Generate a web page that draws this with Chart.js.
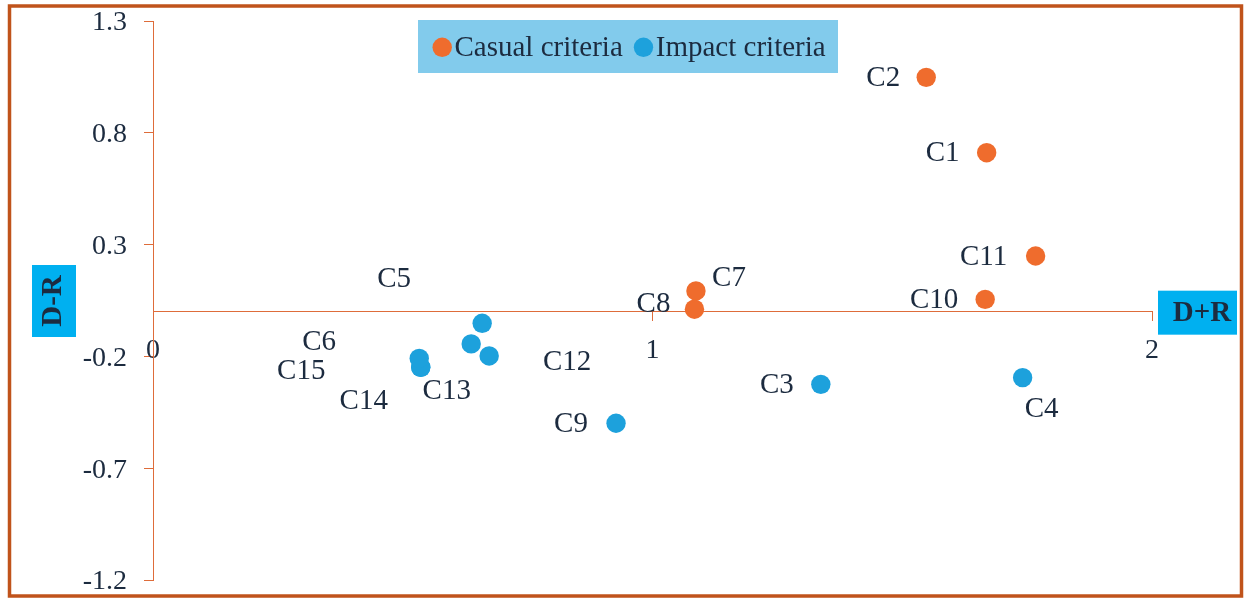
<!DOCTYPE html>
<html>
<head>
<meta charset="utf-8">
<script src="https://cdn.jsdelivr.net/npm/chart.js@4.4.1/dist/chart.umd.min.js"></script>
<style>
  html, body { margin: 0; padding: 0; background: #ffffff; }
  #wrap { width: 1244px; height: 599px; position: relative; }
</style>
</head>
<body>
<div id="wrap"><canvas id="c" width="1244" height="599"></canvas></div>
<script>
// ---- data ----
const casualLabels = ['C1', 'C2', 'C7', 'C8', 'C10', 'C11'];
const casualX = [1.669, 1.548, 1.087, 1.084, 1.666, 1.767];
const casualY = [0.711, 1.048, 0.093, 0.011, 0.055, 0.249];

const impactLabels = ['C3', 'C4', 'C5', 'C6', 'C9', 'C12', 'C13', 'C14', 'C15'];
const impactX = [1.337, 1.741, 0.659, 0.637, 0.927, 0.673, 0.536, 0.536, 0.533];
const impactY = [-0.325, -0.295, -0.052, -0.144, -0.499, -0.198, -0.249, -0.249, -0.209];

const xTicks = [0, 1, 2];
const yTicks = [-1.2, -0.7, -0.2, 0.3, 0.8, 1.3];
const seriesNames = ['Casual criteria', 'Impact criteria'];
const xTitle = 'D+R';
const yTitle = 'D-R';

// ---- styles ----
const ORANGE = '#EF6C2D';
const BLUE = '#1DA1DC';
const AXIS = '#DE6C3A';
const TXT = '#1C2B3F';
const FRAME = '#C0531B';
const SERIF = '"Liberation Serif", "Times New Roman", serif';

// label offsets (pixels, relative to the point centre)
const labelOffsets = {
  C1: [-44, 1], C2: [-43, 1], C7: [33, -12], C8: [-41, -5], C10: [-51, 1], C11: [-52, 1],
  C3: [-44, 1], C4: [19, 32], C5: [-88, -44], C6: [-152, -1], C9: [-45, 1],
  C12: [78, 6], C13: [26, 24], C14: [-57, 34], C15: [-118, 13]
};

const decor = {
  id: 'decor',
  beforeDraw(chart) {
    const ctx = chart.ctx;
    ctx.save();
    ctx.fillStyle = '#ffffff';
    ctx.fillRect(0, 0, chart.width, chart.height);

    // outer frame
    ctx.strokeStyle = FRAME;
    ctx.lineWidth = 3.5;
    ctx.strokeRect(9.5, 6, 1232, 590);

    const xs = chart.scales.x, ys = chart.scales.y;
    const y0 = ys.getPixelForValue(0);

    // y title box
    ctx.fillStyle = '#00B0F0';
    ctx.fillRect(32, 265, 44, 72);
    ctx.save();
    ctx.translate(54, 301);
    ctx.rotate(-Math.PI / 2);
    ctx.fillStyle = TXT;
    ctx.font = 'bold 29px ' + SERIF;
    ctx.textAlign = 'center';
    ctx.textBaseline = 'middle';
    ctx.fillText(yTitle, 0, 0);
    ctx.restore();

    // x title box
    const bx = xs.right + 6;
    ctx.fillStyle = '#00B0F0';
    ctx.fillRect(bx, y0 - 21, 79, 44);
    ctx.fillStyle = TXT;
    ctx.font = 'bold 29px ' + SERIF;
    ctx.textAlign = 'center';
    ctx.textBaseline = 'middle';
    ctx.fillText(xTitle, bx + 44, y0 + 2);

    // legend
    ctx.fillStyle = '#82CBEC';
    ctx.fillRect(418, 20, 420, 53);
    ctx.font = '29px ' + SERIF;
    ctx.textAlign = 'left';
    ctx.textBaseline = 'middle';
    let lx = 432.5;
    const ly = 47.3;
    chart.data.datasets.forEach((ds) => {
      ctx.fillStyle = ds.backgroundColor;
      ctx.beginPath();
      ctx.arc(lx + 9.7, ly, 9.7, 0, Math.PI * 2);
      ctx.fill();
      ctx.fillStyle = TXT;
      ctx.fillText(ds.label, lx + 22, ly + 1);
      lx += 22 + ctx.measureText(ds.label).width + 11;
    });
    ctx.restore();
  },
  afterDatasetsDraw(chart) {
    const ctx = chart.ctx;
    ctx.save();
    ctx.font = '29px ' + SERIF;
    ctx.fillStyle = TXT;
    ctx.textAlign = 'center';
    ctx.textBaseline = 'middle';
    chart.data.datasets.forEach((ds, di) => {
      const meta = chart.getDatasetMeta(di);
      meta.data.forEach((pt, i) => {
        const name = ds.data[i].name;
        const off = labelOffsets[name] || [0, 0];
        ctx.fillText(name, pt.x + off[0], pt.y + off[1]);
      });
    });
    ctx.restore();
  }
};

const toPoints = (xs, ys, names) => xs.map((x, i) => ({ x: x, y: ys[i], name: names[i] }));

new Chart(document.getElementById('c'), {
  type: 'scatter',
  data: {
    datasets: [
      {
        label: seriesNames[0],
        data: toPoints(casualX, casualY, casualLabels),
        backgroundColor: ORANGE,
        borderWidth: 0,
        pointRadius: 9.7,
        pointHoverRadius: 9.7
      },
      {
        label: seriesNames[1],
        data: toPoints(impactX, impactY, impactLabels),
        backgroundColor: BLUE,
        borderWidth: 0,
        pointRadius: 9.7,
        pointHoverRadius: 9.7
      }
    ]
  },
  options: {
    responsive: false,
    animation: false,
    devicePixelRatio: 1,
    layout: { padding: { left: 0, top: 21, right: 92, bottom: 19 } },
    plugins: { legend: { display: false }, tooltip: { enabled: false } },
    scales: {
      x: {
        type: 'linear',
        min: 0,
        max: 2,
        position: { y: 0 },
        afterBuildTicks: (s) => { s.ticks = xTicks.map(v => ({ value: v })); },
        afterFit: (s) => { s.paddingLeft = 0; s.paddingRight = 0; s.paddingTop = 0; s.paddingBottom = 0; },
        ticks: {
          callback: (v) => String(v),
          font: { family: SERIF, size: 28 },
          color: TXT,
          padding: 13,
          maxRotation: 0,
          autoSkip: false
        },
        grid: { drawOnChartArea: false, drawTicks: true, tickLength: 9, color: AXIS, lineWidth: 1 },
        border: { display: true, color: AXIS, width: 1 }
      },
      y: {
        type: 'linear',
        min: -1.2,
        max: 1.3,
        position: 'left',
        afterFit: (s) => { s.width = 153; s.paddingTop = 0; s.paddingBottom = 0; },
        afterBuildTicks: (s) => { s.ticks = yTicks.map(v => ({ value: v })); },
        ticks: {
          callback: (v) => String(v),
          font: { family: SERIF, size: 28 },
          color: TXT,
          padding: 17,
          labelOffset: 2,
          autoSkip: false
        },
        grid: { drawOnChartArea: false, drawTicks: true, tickLength: 9, color: AXIS, lineWidth: 1 },
        border: { display: true, color: AXIS, width: 1 }
      }
    }
  },
  plugins: [decor]
});
</script>
</body>
</html>
